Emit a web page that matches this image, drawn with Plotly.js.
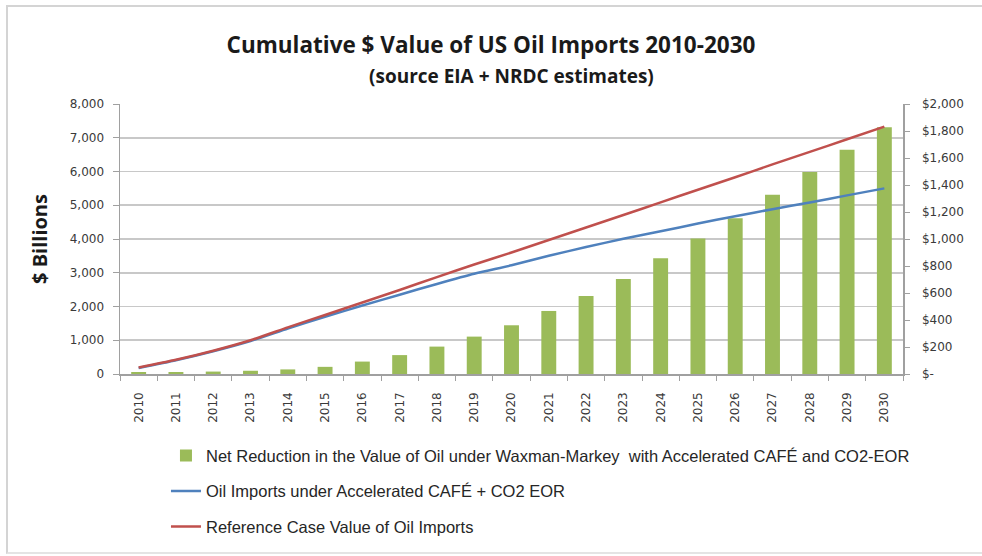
<!DOCTYPE html>
<html>
<head>
<meta charset="utf-8">
<script src="https://cdn.plot.ly/plotly-3.0.1.min.js"></script>
<style>
  html, body { margin: 0; padding: 0; background: #ffffff; overflow: hidden; }
  #chart { width: 982px; height: 556px; }
  #frame { position: absolute; left: 6px; top: 5px; width: 1000px; height: 545px;
           border-left: 2px solid #d4d4d4; border-top: 2px solid #d4d4d4; border-bottom: 2px solid #e4e4e4;
           pointer-events: none; }
</style>
</head>
<body>
<div id="chart"></div>
<div id="frame"></div>
<script>
// ---- data ----
const years = ['2010','2011','2012','2013','2014','2015','2016','2017','2018','2019','2020',
               '2021','2022','2023','2024','2025','2026','2027','2028','2029','2030'];
// Net reduction (right axis, $ billions)
const netReduction = [15, 15, 18, 24, 34, 53, 92, 140, 203, 277, 361,
                      467, 578, 704, 858, 1003, 1153, 1327, 1496, 1662, 1828];
// Oil imports under Accelerated CAFE + CO2 EOR (left axis, $ billions)
const acceleratedImports = [175, 405, 672, 976, 1346, 1697, 2028, 2350, 2667, 2968, 3220,
                            3503, 3762, 4006, 4227, 4460, 4677, 4883, 5084, 5293, 5500];
// Reference case value of oil imports (left axis, $ billions)
const referenceImports = [190, 420, 690, 1000, 1380, 1750, 2120, 2490, 2870, 3245, 3600,
                          3970, 4340, 4710, 5085, 5460, 5830, 6210, 6580, 6955, 7330];
const leftTicks = [0, 1000, 2000, 3000, 4000, 5000, 6000, 7000, 8000];
const leftTickText = ['0', '1,000', '2,000', '3,000', '4,000', '5,000', '6,000', '7,000', '8,000'];
const rightTicks = [0, 200, 400, 600, 800, 1000, 1200, 1400, 1600, 1800, 2000];
const rightTickText = ['$-', '$200', '$400', '$600', '$800', '$1,000', '$1,200', '$1,400', '$1,600', '$1,800', '$2,000'];

const tickFont = { family: 'DejaVu Sans, Liberation Sans, sans-serif', size: 12, color: '#3a3a3a' };
const titleFamily = 'Open Sans, Lato, sans-serif';

const traces = [
  {
    type: 'bar', x: years, y: netReduction, yaxis: 'y',
    name: 'Net Reduction in the Value of Oil under Waxman-Markey  with Accelerated CAFÉ and CO2-EOR',
    marker: { color: '#9bbb59' }, legendgroup: 'a', hoverinfo: 'x+y'
  },
  {
    type: 'scatter', mode: 'lines', x: years, y: acceleratedImports, yaxis: 'y2',
    name: 'Oil Imports under Accelerated CAFÉ + CO2 EOR',
    line: { color: '#4f81bd', width: 2.5, shape: 'spline', smoothing: 0.6 }, legendgroup: 'b'
  },
  {
    type: 'scatter', mode: 'lines', x: years, y: referenceImports, yaxis: 'y2',
    name: 'Reference Case Value of Oil Imports',
    line: { color: '#c0504d', width: 2.5, shape: 'spline', smoothing: 0.6 }, legendgroup: 'c'
  }
];

const layout = {
  width: 982, height: 556,
  paper_bgcolor: '#ffffff', plot_bgcolor: '#ffffff',
  margin: { l: 120, r: 79, t: 104, b: 182, pad: 0, autoexpand: false },
  title: {
    text: '<b>Cumulative $ Value of US Oil Imports 2010-2030</b>',
    font: { family: titleFamily, size: 22.5, color: '#1a1a1a' },
    x: 0.5, xanchor: 'center', y: 1 - 45 / 556, yanchor: 'middle', yref: 'container'
  },
  annotations: [{
    text: '<b>(source EIA + NRDC estimates)</b>',
    xref: 'paper', yref: 'paper', x: 0.5, y: (374 - 76) / 270, xanchor: 'center', yanchor: 'middle',
    showarrow: false, font: { family: titleFamily, size: 19, color: '#1a1a1a' }
  }],
  bargap: 0.6,
  showlegend: true,
  legend: {
    x: 0.0587, xanchor: 'left', y: -0.238, yanchor: 'top',
    orientation: 'v', tracegroupgap: 11,
    font: { family: 'Liberation Sans, Arial, sans-serif', size: 16.5, color: '#262626' },
    bgcolor: 'rgba(0,0,0,0)'
  },
  xaxis: {
    type: 'category', tickson: 'boundaries', ticks: 'outside', ticklen: 5, tickcolor: '#a0a0a0',
    ticklabelstandoff: 12,
    showline: true, linecolor: '#a0a0a0', linewidth: 1.5,
    tickangle: -90, tickfont: tickFont, showgrid: false, zeroline: false
  },
  yaxis: {
    side: 'right', range: [0, 2000], tickvals: rightTicks, ticktext: rightTickText,
    ticks: 'outside', ticklen: 5, tickcolor: '#a0a0a0', ticklabelstandoff: 10,
    showline: true, linecolor: '#a0a0a0', linewidth: 1.5,
    showgrid: false, zeroline: false, tickfont: tickFont
  },
  yaxis2: {
    overlaying: 'y', side: 'left', range: [0, 8000], tickvals: leftTicks, ticktext: leftTickText,
    ticks: 'outside', ticklen: 6, tickcolor: '#a0a0a0', ticklabelstandoff: 6,
    showline: true, linecolor: '#a0a0a0', linewidth: 1.5,
    showgrid: true, gridcolor: '#c8c8c8', gridwidth: 1.8, zeroline: false, tickfont: tickFont,
    title: { text: '<b>$ Billions</b>', font: { family: titleFamily, size: 20, color: '#1a1a1a' }, standoff: 16 }
  }
};

Plotly.newPlot('chart', traces, layout, { displayModeBar: false, staticPlot: true });
</script>
</body>
</html>
